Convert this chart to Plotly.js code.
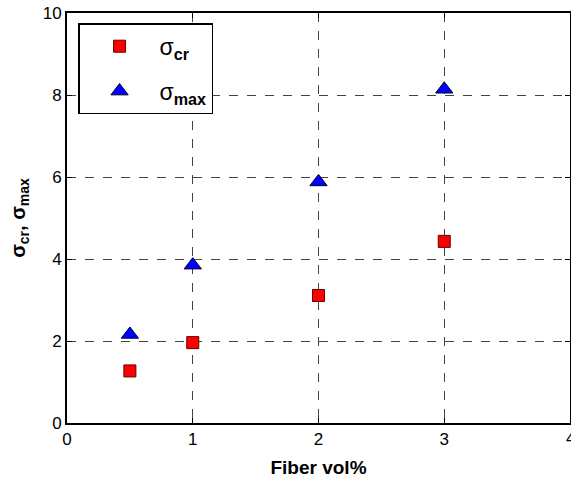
<!DOCTYPE html>
<html><head><meta charset="utf-8">
<script src="https://cdn.plot.ly/plotly-3.0.1.min.js"></script>
<style>body{margin:0;background:#fff}#c{width:571px;height:481px}</style>
</head><body><div id="c"></div>
<script>
const fiberVol = [0.5, 1, 2, 3];
const sigmaCr = [1.27, 1.96, 3.11, 4.43];
const sigmaMax = [2.16, 3.85, 5.88, 8.14];
const xTicks = [0, 1, 2, 3, 4];
const yTicks = [0, 2, 4, 6, 8, 10];
const FONT = 'Arial, Liberation Sans, sans-serif';

const traces = [
  {x: fiberVol, y: sigmaCr, type: 'scatter', mode: 'markers', name: 'σ<sub><b>cr</b></sub>',
   legendgroup: 'a',
   marker: {symbol: 'square', size: 12, color: '#ff0000', line: {color: '#600000', width: 1}}},
  {x: fiberVol, y: sigmaMax, type: 'scatter', mode: 'markers', name: 'σ<sub><b>max</b></sub>',
   legendgroup: 'b',
   marker: {symbol: 'triangle-up', size: 15, color: '#0000ff', line: {color: '#000030', width: 1}}}
];

const axBase = {
  showline: true, linecolor: '#000', linewidth: 2, mirror: 'ticks',
  ticks: 'inside', ticklen: 5, tickcolor: '#000',
  showgrid: true, gridcolor: '#444', griddash: 'dash', gridwidth: 1,
  zeroline: false, tickfont: {family: FONT, size: 17, color: '#000'}
};

const layout = {
  width: 571, height: 481,
  margin: {l: 67, r: 1, t: 13, b: 58},
  paper_bgcolor: '#fff', plot_bgcolor: '#fff',
  showlegend: true,
  xaxis: Object.assign({}, axBase, {range: [0, 4], tickvals: xTicks.slice(0, 4), ticktext: xTicks.slice(0, 4).map(String),
    title: {text: '<b>Fiber vol%</b>', font: {family: FONT, size: 19, color: '#000'}, standoff: 12}}),
  yaxis: Object.assign({}, axBase, {range: [0, 10], tickvals: yTicks, ticktext: yTicks.map(String),
    title: {text: '<b>σ<sub>cr</sub>, σ<sub>max</sub></b>', font: {family: FONT, size: 20, color: '#000'}, standoff: 12}}),
  annotations: [{x: xTicks[4], xref: 'x', y: 0, yref: 'paper', yanchor: 'top', xanchor: 'center',
    yshift: -4, text: String(xTicks[4]), showarrow: false, font: {family: FONT, size: 17, color: '#000'}}],
  legend: {x: 0.022, y: 0.975, xanchor: 'left', yanchor: 'top',
    bordercolor: '#000', borderwidth: 1.5, bgcolor: '#fff',
    font: {family: FONT, size: 23, color: '#000'},
    traceorder: 'grouped', tracegroupgap: 12, itemwidth: 70}
};

Plotly.newPlot('c', traces, layout, {displayModeBar: false, staticPlot: true});
</script></body></html>
